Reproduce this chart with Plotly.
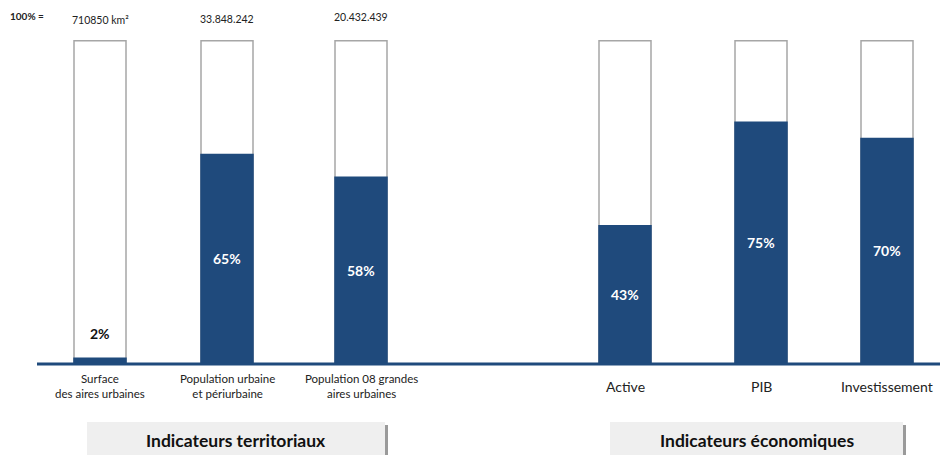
import plotly.graph_objects as go

# Data
categories = [
    "Surface<br>des aires urbaines",
    "Population urbaine<br>et périurbaine",
    "Population 08 grandes<br>aires urbaines",
    "Active",
    "PIB",
    "Investissement",
]
shares = [2, 65, 58, 43, 75, 70]            # % of the total
totals = ["710850 km²", "33.848.242", "20.432.439", "", "", ""]
groups = ["Indicateurs territoriaux", "Indicateurs économiques"]

# Layout constants (pixel-based x axis, 940 px wide)
W, H = 940, 455
x_pos = [100, 227, 361, 625, 761, 887]
bar_w = 52
navy = "#1f4a7c"
font_family = "Lato, 'Open Sans', sans-serif"

# y axis so that 0 sits at pixel 364 and 100 at pixel 40.7
px_per_unit = (364 - 40.7) / 100
y_min = -(H - 364) / px_per_unit
y_max = 100 + 40.7 / px_per_unit


def py(pix):
    """pixel row -> paper fraction"""
    return 1 - pix / H


fig = go.Figure()

# full-height outline (100%)
fig.add_trace(go.Bar(
    x=x_pos, y=[100] * len(x_pos), width=bar_w,
    marker=dict(color="white", line=dict(color="#a6a6a6", width=1.5)),
    hoverinfo="skip", showlegend=False,
))
# filled share
fig.add_trace(go.Bar(
    x=x_pos, y=shares, width=bar_w + 1.5,
    marker=dict(color=navy, line=dict(width=0)),
    showlegend=False,
))

annotations = []
for x, v in zip(x_pos, shares):
    if v < 10:
        annotations.append(dict(x=x, y=v, xref="x", yref="y", text=f"{v}%",
                                showarrow=False, yanchor="bottom", yshift=14,
                                font=dict(family=font_family, size=14, color="#111", weight="bold")))
    else:
        annotations.append(dict(x=x, y=v / 2, xref="x", yref="y", text=f"{v}%",
                                showarrow=False, yanchor="middle",
                                font=dict(family=font_family, size=14, color="white", weight="bold")))

# totals above the bars
total_rows = [20, 19, 17]
for x, t, r in zip(x_pos, totals, total_rows + [0, 0, 0]):
    if t:
        annotations.append(dict(x=x, y=py(r), xref="x", yref="paper", text=t,
                                showarrow=False, yanchor="middle",
                                font=dict(family=font_family, size=10.5, color="#222")))
annotations.append(dict(x=27, y=py(16), xref="x", yref="paper", text="100% =",
                        showarrow=False, yanchor="middle",
                        font=dict(family=font_family, size=10, color="#222", weight="bold")))

# category labels
for i, (x, c) in enumerate(zip(x_pos, categories)):
    size = 11.5 if i < 3 else 14
    annotations.append(dict(x=x, y=py(386), xref="x", yref="paper", text=c,
                            showarrow=False, xanchor="center", yanchor="middle",
                            font=dict(family=font_family, size=size, color="#222")))

# group boxes
boxes = [(87, 385), (610, 903)]
shapes = [dict(type="line", x0=37, x1=W, y0=0, y1=0, xref="x", yref="y",
               line=dict(color=navy, width=3))]
for (x0, x1), g in zip(boxes, groups):
    shapes.append(dict(type="rect", x0=x0 + 3, x1=x1 + 3, y0=py(H + 5), y1=py(425),
                       xref="x", yref="paper", line=dict(width=0),
                       fillcolor="#9a9a9a", layer="below"))
    shapes.append(dict(type="rect", x0=x0, x1=x1, y0=py(H + 5), y1=py(422),
                       xref="x", yref="paper", line=dict(width=0),
                       fillcolor="#efefef", layer="below"))
    annotations.append(dict(x=(x0 + x1) / 2, y=py(440), xref="x", yref="paper", text=g,
                            showarrow=False, yanchor="middle",
                            font=dict(family=font_family, size=17.5, color="#111", weight="bold")))

fig.update_layout(
    width=W, height=H,
    margin=dict(l=0, r=0, t=0, b=0),
    paper_bgcolor="white", plot_bgcolor="white",
    barmode="overlay",
    xaxis=dict(range=[0, W], visible=False, fixedrange=True),
    yaxis=dict(range=[y_min, y_max], visible=False, fixedrange=True),
    annotations=annotations,
    shapes=shapes,
)

fig.write_html("out.html")
